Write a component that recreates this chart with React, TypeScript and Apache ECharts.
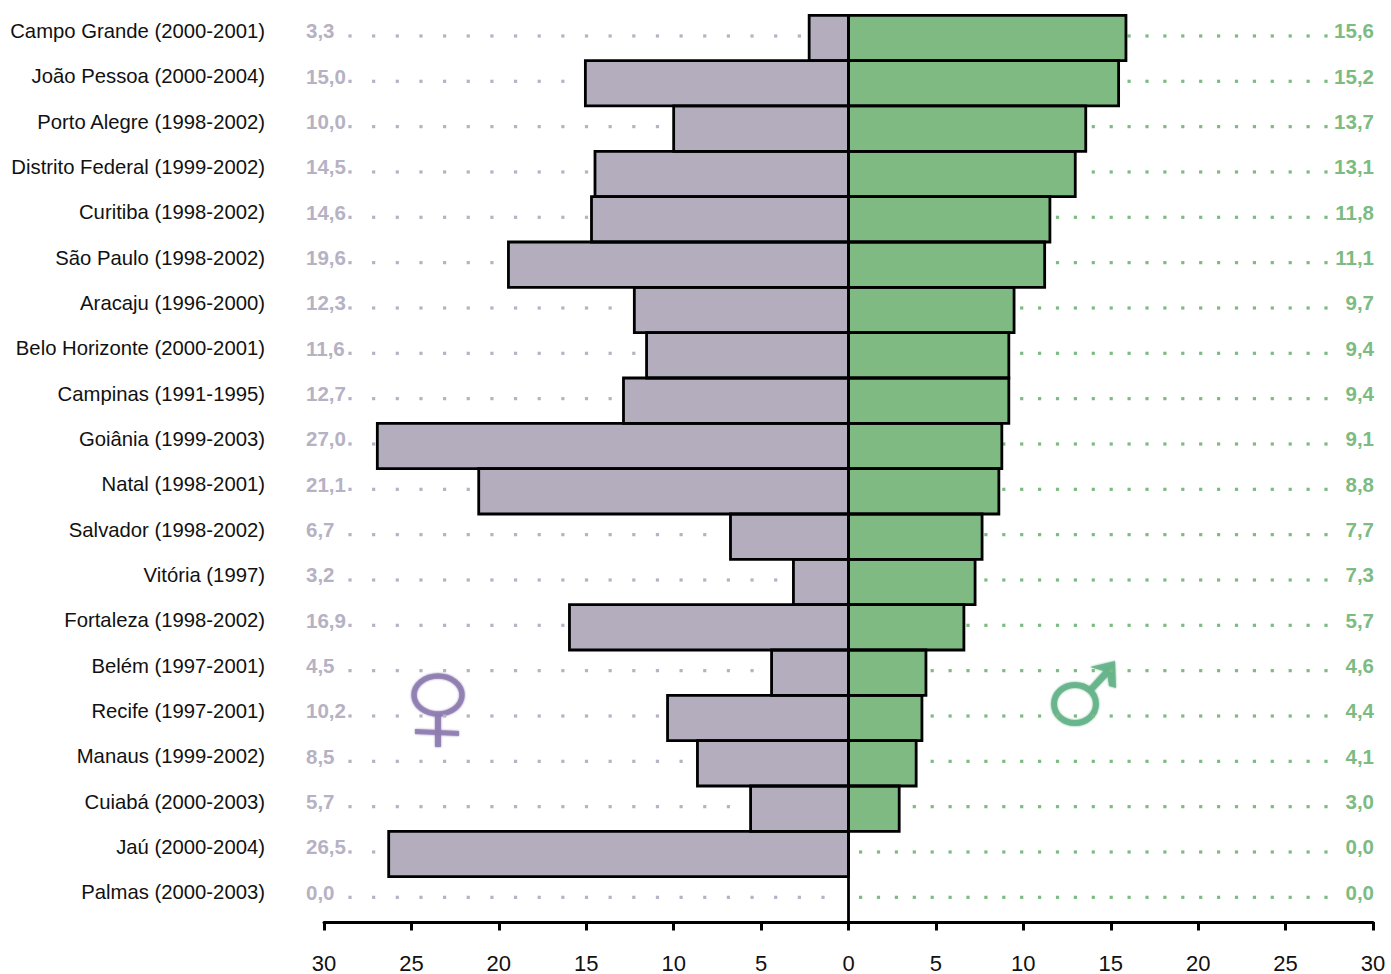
import React, { useEffect, useRef } from "react";
import * as echarts from "echarts";

const categories = [
  "Campo Grande (2000-2001)", "João Pessoa (2000-2004)", "Porto Alegre (1998-2002)", "Distrito Federal (1999-2002)",
  "Curitiba (1998-2002)", "São Paulo (1998-2002)", "Aracaju (1996-2000)", "Belo Horizonte (2000-2001)",
  "Campinas (1991-1995)", "Goiânia (1999-2003)", "Natal (1998-2001)", "Salvador (1998-2002)", "Vitória (1997)",
  "Fortaleza (1998-2002)", "Belém (1997-2001)", "Recife (1997-2001)", "Manaus (1999-2002)", "Cuiabá (2000-2003)",
  "Jaú (2000-2004)", "Palmas (2000-2003)",
];
const femaleBars = [2.25, 15.05, 10.0, 14.5, 14.7, 19.45, 12.25, 11.55, 12.87, 26.95, 21.15, 6.75, 3.15, 15.96, 4.4, 10.35, 8.64, 5.6, 26.3, 0];
const maleBars = [15.87, 15.45, 13.57, 12.97, 11.52, 11.22, 9.47, 9.17, 9.17, 8.77, 8.6, 7.64, 7.24, 6.6, 4.43, 4.2, 3.87, 2.9, 0, 0];
const femaleLabels = ["3,3", "15,0", "10,0", "14,5", "14,6", "19,6", "12,3", "11,6", "12,7", "27,0", "21,1", "6,7", "3,2", "16,9", "4,5", "10,2", "8,5", "5,7", "26,5", "0,0"];
const maleLabels = ["15,6", "15,2", "13,7", "13,1", "11,8", "11,1", "9,7", "9,4", "9,4", "9,1", "8,8", "7,7", "7,3", "5,7", "4,6", "4,4", "4,1", "3,0", "0,0", "0,0"];

const FEMALE = "#B3ADBD";
const MALE = "#7FBA83";
const FEMALE_TEXT = "#B6B1C3";
const MALE_TEXT = "#7CBB82";
const FONT = '"Liberation Sans", Arial, sans-serif';

function leaderRender(side: "f" | "m") {
  return (params: any, api: any) => {
    const row = api.value(1);
    const barVal = api.value(0);
    const [barX, cy] = api.coord([barVal, row]);
    const children: any[] = [];
    const y = cy - 2;
    const s = 3.2;
    if (side === "f") {
      const [zeroX] = api.coord([0, row]);
      for (let x = 350; x < zeroX - 10 && x < barX - 3; x += 23.65) {
        children.push({ type: "rect", shape: { x: x - s / 2, y: y - s / 2, width: s, height: s }, style: { fill: FEMALE_TEXT } });
      }
      children.push({
        type: "text",
        style: { x: 306, y: cy - 7, text: femaleLabels[row], fill: FEMALE_TEXT, font: `bold 20.5px ${FONT}`, textAlign: "left", textVerticalAlign: "middle" },
      });
    } else {
      for (let x = 1326; x > barX + 1 && x > 855; x -= 17.9) {
        children.push({ type: "rect", shape: { x: x - s / 2, y: y - s / 2, width: s, height: s }, style: { fill: MALE_TEXT } });
      }
      children.push({
        type: "text",
        style: { x: 1374, y: cy - 7, text: maleLabels[row], fill: MALE_TEXT, font: `bold 20.5px ${FONT}`, textAlign: "right", textVerticalAlign: "middle" },
      });
    }
    return { type: "group", children };
  };
}

function outlineRender(params: any, api: any) {
  const v = api.value(0);
  if (v === 0) return { type: "group", children: [] };
  const row = api.value(1);
  const [x1, cy] = api.coord([0, row]);
  const [x2] = api.coord([v, row]);
  const h = api.size([0, 1])[1];
  return {
    type: "rect",
    shape: { x: Math.min(x1, x2), y: cy - h / 2, width: Math.abs(x2 - x1), height: h },
    style: { fill: "none", stroke: "#000", lineWidth: 2.8 },
  };
}

export default function App() {
  const ref = useRef<HTMLDivElement>(null);
  useEffect(() => {
    const chart = echarts.init(ref.current!, undefined, { renderer: "svg" });
    const custom = (name: string, renderItem: any, data: number[][], z: number) => ({
      type: "custom",
      name,
      coordinateSystem: "cartesian2d",
      renderItem,
      data,
      encode: { x: 0, y: 1 },
      z,
      silent: true,
      clip: false,
    });
    const femaleData = femaleBars.map((v, i) => [-v, i]);
    const maleData = maleBars.map((v, i) => [v, i]);
    const PURPLE = "#8E7CB0";
    const GREEN = "#67B48B";
    const purple = { opacity: 0.85, shadowBlur: 2, shadowColor: PURPLE };
    const green = { opacity: 0.9, shadowBlur: 2, shadowColor: GREEN };
    chart.setOption({
      animation: false,
      backgroundColor: "#fff",
      grid: { left: 324, right: 18, top: 15.3, bottom: 52, containLabel: false },
      xAxis: {
        type: "value",
        min: -30,
        max: 30,
        interval: 5,
        splitLine: { show: false },
        axisLine: { show: true, onZero: false, lineStyle: { color: "#000", width: 3 } },
        axisTick: { show: true, length: 8.5, lineStyle: { color: "#000", width: 3 } },
        axisLabel: {
          margin: 30,
          fontFamily: FONT,
          fontSize: 22,
          color: "#111",
          hideOverlap: false,
          showMinLabel: true,
          showMaxLabel: true,
          formatter: (v: number) => String(Math.abs(v)),
        },
      },
      yAxis: {
        type: "category",
        inverse: true,
        data: categories,
        axisLine: { show: false },
        axisTick: { show: false },
        axisLabel: {
          interval: 0,
          margin: 59,
          fontFamily: FONT,
          fontSize: 20.3,
          color: "#111",
          verticalAlign: "bottom",
          lineHeight: 14,
        },
      },
      graphic: [
        {
          type: "group",
          silent: true,
          z: 10,
          children: [
            { type: "ellipse", shape: { cx: 438, cy: 695, rx: 24, ry: 19 }, style: { fill: "none", stroke: PURPLE, lineWidth: 5.5, ...purple } },
            { type: "polygon", shape: { points: [[435, 714], [441, 714], [441, 747], [435, 747]] }, style: { fill: PURPLE, ...purple } },
            { type: "polygon", shape: { points: [[415, 729], [459, 731], [459, 736], [415, 734]] }, style: { fill: PURPLE, ...purple } },
            { type: "ellipse", shape: { cx: 1075, cy: 704, rx: 21, ry: 19 }, style: { fill: "none", stroke: GREEN, lineWidth: 6, ...green } },
            { type: "polygon", shape: { points: [[1088, 688], [1107, 667], [1112, 672], [1092, 693]] }, style: { fill: GREEN, ...green } },
            { type: "polygon", shape: { points: [[1090, 667], [1115, 661], [1116, 688], [1109, 686], [1107, 672]] }, style: { fill: GREEN, ...green } },
          ],
        },
      ],
      series: [
        custom("f-leaders", leaderRender("f"), femaleData, 1),
        custom("m-leaders", leaderRender("m"), maleData, 1),
        {
          type: "bar",
          name: "Mulheres",
          barWidth: "100%",
          barGap: "-100%",
          data: femaleBars.map((v) => -v),
          itemStyle: { color: FEMALE },
          z: 3,
        },
        {
          type: "bar",
          name: "Homens",
          barWidth: "100%",
          barGap: "-100%",
          data: maleBars,
          itemStyle: { color: MALE },
          z: 3,
          markLine: {
            silent: true,
            symbol: "none",
            label: { show: false },
            lineStyle: { color: "#000", width: 2.8, type: "solid" },
            data: [{ xAxis: 0 }],
            z: 5,
          },
        },
        custom("f-outline", outlineRender, femaleData, 4),
        custom("m-outline", outlineRender, maleData, 4),
      ],
    });
    return () => chart.dispose();
  }, []);
  return <div ref={ref} style={{ position: "absolute", left: 0, top: 0, width: 1391, height: 974 }} />;
}
